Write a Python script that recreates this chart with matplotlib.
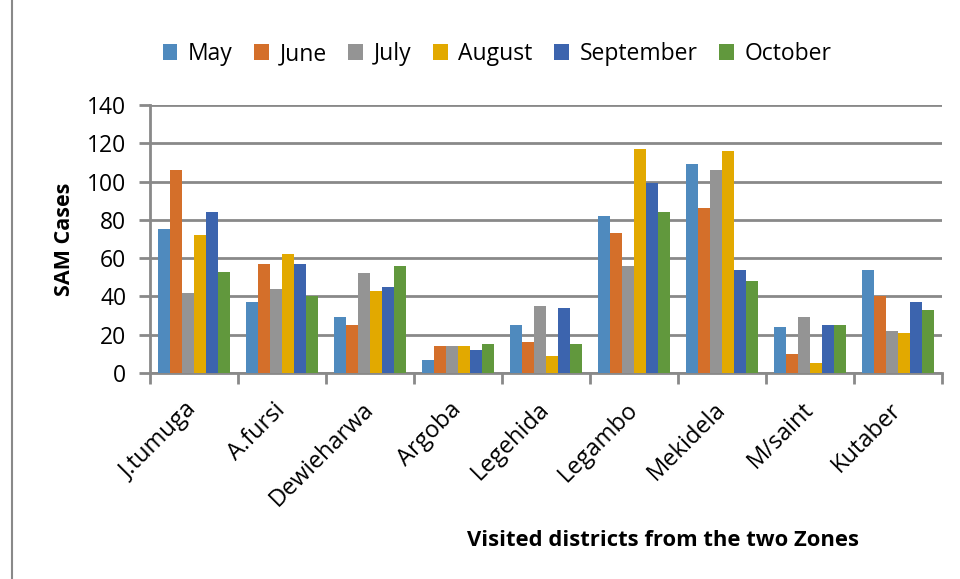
import matplotlib

matplotlib.use("Agg")

import matplotlib.pyplot as plt
import numpy as np
from matplotlib.lines import Line2D

plt.rcParams["font.family"] = ["Open Sans", "DejaVu Sans"]

districts = ["J.tumuga", "A.fursi", "Dewieharwa", "Argoba", "Legehida",
             "Legambo", "Mekidela", "M/saint", "Kutaber"]
months = ["May", "June", "July", "August", "September", "October"]

may = [75, 37, 29, 7, 25, 82, 109, 24, 54]
june = [106, 57, 25, 14, 16, 73, 86, 10, 40]
july = [42, 44, 52, 14, 35, 56, 106, 29, 22]
august = [72, 62, 43, 14, 9, 117, 116, 5, 21]
september = [84, 57, 45, 12, 34, 99, 54, 25, 37]
october = [53, 40, 56, 15, 15, 84, 48, 25, 33]

series = [may, june, july, august, september, october]
colors = ["#4F8ABE", "#D46F2A", "#949494", "#E2A900", "#3C64AE", "#61983D"]
grid_col = "#898989"

fig = plt.figure(figsize=(9.6, 5.79), dpi=100)
ax = fig.add_axes([150 / 960, 1 - 373 / 579, 792 / 960, 268 / 579])

x = np.arange(len(districts))
n = len(series)
width = 0.818 / n
for i, (vals, col, name) in enumerate(zip(series, colors, months)):
    ax.bar(x + (i - (n - 1) / 2) * width, vals, width, color=col, label=name, zorder=3)

ax.set_xlim(-0.5, len(districts) - 0.5)
ax.set_ylim(0, 140)
ax.set_yticks(range(0, 141, 20))
ax.yaxis.grid(True, color=grid_col, linewidth=2, zorder=0)
ax.set_axisbelow(True)

for side in ["top", "right"]:
    ax.spines[side].set_visible(False)
for side in ["left", "bottom"]:
    ax.spines[side].set_color(grid_col)
    ax.spines[side].set_linewidth(2)

# category ticks sit between the groups
ax.set_xticks(np.arange(-0.5, len(districts)), minor=False)
ax.set_xticklabels([])
ax.set_xticks(x, minor=True)
ax.set_xticklabels(districts, minor=True, rotation=45, ha="right", va="center",
                   rotation_mode="anchor", fontsize=17)
ax.tick_params(axis="x", which="major", length=8, width=2, color=grid_col)
ax.tick_params(axis="x", which="minor", length=0, pad=24)
ax.tick_params(axis="y", length=8, width=2, color=grid_col, labelsize=16.5, pad=9)

ax.set_ylabel("SAM Cases", fontsize=15.5, fontweight="bold", labelpad=9)
fig.text(663 / 960, 1 - 541 / 579, "Visited districts from the two Zones",
         ha="center", va="center", fontsize=15.8, fontweight="bold")

fig.legend(loc="center", bbox_to_anchor=(497 / 960, 1 - 54 / 579), ncol=6,
           frameon=False, fontsize=16.5, handlelength=0.65, handleheight=0.65,
           handletextpad=0.45, columnspacing=0.95)

fig.add_artist(Line2D([12 / 960, 12 / 960], [0, 1], color=grid_col, linewidth=1.5))

fig.savefig("out.png", dpi=100)
